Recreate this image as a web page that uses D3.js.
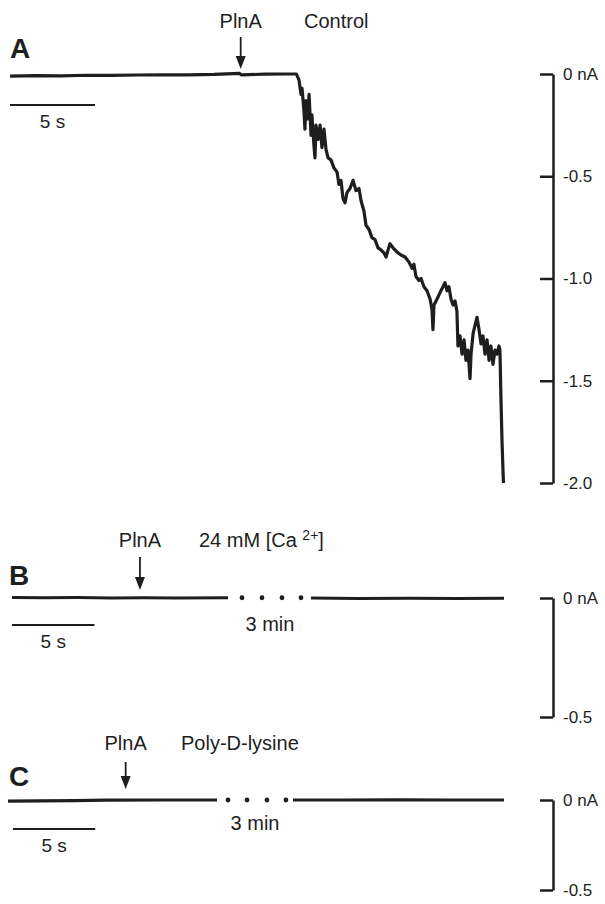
<!DOCTYPE html>
<html>
<head>
<meta charset="utf-8">
<script src="https://cdn.jsdelivr.net/npm/d3@7"></script>
<style>
	body { margin: 0; background: #fff; }
	svg { display: block; font-family: "Liberation Sans", Arial, Helvetica, sans-serif; }
</style>
</head>
<body>
<svg id="chart" width="605" height="904"></svg>
<script>
// Panel A trace: [time (s), current (nA)]
const traceA = [
	[0, -0.01], [1.5, -0.008], [3, -0.009], [4.5, -0.006], [6, -0.007], [7.5, -0.005], [9, -0.004],
	[10.5, -0.004], [12, -0.002], [13.5, 0.003], [13.6, -0.004], [15, -0.001], [16.3, 0], [16.85, 0],
	[17.0, -0.03], [17.12, -0.10], [17.18, -0.07], [17.29, -0.18], [17.35, -0.27], [17.41, -0.13],
	[17.53, -0.22], [17.59, -0.10], [17.71, -0.30], [17.76, -0.20], [17.88, -0.35], [17.94, -0.41],
	[18.0, -0.25], [18.12, -0.32], [18.24, -0.25], [18.35, -0.36], [18.47, -0.27], [18.59, -0.37],
	[18.71, -0.41], [18.88, -0.42], [19.06, -0.46], [19.24, -0.48], [19.35, -0.54], [19.47, -0.52],
	[19.59, -0.61], [19.71, -0.63], [19.82, -0.58], [20.0, -0.56], [20.18, -0.52], [20.35, -0.57],
	[20.53, -0.56], [20.65, -0.62], [20.82, -0.67], [20.94, -0.74], [21.12, -0.76], [21.29, -0.80],
	[21.47, -0.81], [21.65, -0.85], [21.82, -0.86], [22.0, -0.875], [22.12, -0.895], [22.24, -0.86],
	[22.35, -0.83], [22.53, -0.85], [22.76, -0.87], [23.0, -0.885], [23.24, -0.895], [23.47, -0.92],
	[23.65, -0.95], [23.76, -0.93], [23.88, -0.99], [24.06, -1.01], [24.18, -1.0], [24.35, -1.04],
	[24.53, -1.06], [24.71, -1.10], [24.82, -1.15], [24.88, -1.25], [24.94, -1.13], [25.12, -1.10],
	[25.29, -1.07], [25.47, -1.04], [25.59, -1.02], [25.71, -1.06], [25.82, -1.04], [25.94, -1.10],
	[26.06, -1.13], [26.18, -1.11], [26.29, -1.16], [26.35, -1.33], [26.47, -1.28], [26.59, -1.37],
	[26.71, -1.30], [26.82, -1.40], [26.94, -1.35], [27.06, -1.49], [27.12, -1.37], [27.24, -1.27],
	[27.35, -1.23], [27.47, -1.19], [27.59, -1.25], [27.71, -1.32], [27.82, -1.28], [27.94, -1.37],
	[28.06, -1.30], [28.18, -1.40], [28.29, -1.33], [28.41, -1.42], [28.53, -1.35], [28.65, -1.37],
	[28.76, -1.33], [28.82, -1.35], [28.88, -1.59], [28.94, -1.79], [29.0, -1.94], [29.03, -2.0]
];

// Panels B and C: before and after the 3 min break
const traceBLeft = [[0, 0.002], [2, 0.001], [4, 0.002], [6, 0], [8, 0.001], [10, 0], [13.1, 0.001]];
const traceBRight = [[193.1, 0], [196, -0.002], [199, -0.001], [202, -0.002], [204.8, -0.001]];
const traceCLeft = [[0, -0.006], [2, -0.005], [4, -0.003], [6, -0.001], [9, 0], [12.7, 0]];
const traceCRight = [[192.7, 0], [196, 0], [199, 0.001], [202, 0], [205.5, 0]];

const breakDotsB = [43.5, 86.8, 130.2, 171.4];
const breakDotsC = [38.8, 83.8, 131, 176];

const pulseTime = { A: 13.57, B: 7.76, C: 7.15 };

const ticksA = [0, -0.5, -1.0, -1.5, -2.0];
const tickLabelsA = ['0 nA', '-0.5', '-1.0', '-1.5', '-2.0'];
const ticksBC = [0, -0.5];
const tickLabelsBC = ['0 nA', '-0.5'];

const svg = d3.select('#chart');
const ink = '#1e1e1e';
const font = '"Liberation Sans", Arial, Helvetica, sans-serif';

// scales
const xA = d3.scaleLinear().domain([0, 29]).range([10, 503]);
const yA = d3.scaleLinear().domain([0, -2]).range([74, 483]);

const xB = d3.scaleLinear().domain([0, 13.1, 193.1, 204.8]).range([12, 228, 311, 504]);
const yB = d3.scaleLinear().domain([0, -0.5]).range([598, 717]);

const xC = d3.scaleLinear().domain([0, 12.7, 192.7, 205.5]).range([8, 217, 293, 504]);
const yC = d3.scaleLinear().domain([0, -0.5]).range([800, 890]);

function drawTrace(data, x, y, width) {
	const line = d3.line().x(d => x(d[0])).y(d => y(d[1]));
	svg.append('path')
		.datum(data)
		.attr('d', line)
		.attr('fill', 'none')
		.attr('stroke', ink)
		.attr('stroke-width', width)
		.attr('stroke-linejoin', 'round');
}

function drawBracket(y, ticks, labels) {
	const g = svg.append('g')
		.attr('transform', 'translate(553,0)')
		.call(d3.axisLeft(y).tickValues(ticks).tickSize(13).tickSizeOuter(0).tickFormat(''));
	g.selectAll('path, line').attr('stroke', ink).attr('stroke-width', 2.5);
	g.selectAll('.tick text').remove();

	g.selectAll('.lbl').data(ticks).join('text')
		.attr('class', 'lbl')
		.attr('x', 10)
		.attr('y', d => y(d))
		.attr('dy', '0.35em')
		.attr('text-anchor', 'start')
		.style('font-family', font)
		.style('font-size', '17px')
		.style('fill', ink)
		.text((d, i) => labels[i]);
}

function drawArrow(xPos, yTop, yTip) {
	svg.append('line')
		.attr('x1', xPos).attr('x2', xPos)
		.attr('y1', yTop).attr('y2', yTip - 8)
		.attr('stroke', ink).attr('stroke-width', 1.8);
	svg.append('path')
		.attr('d', `M${xPos - 5},${yTip - 13}L${xPos + 5},${yTip - 13}L${xPos},${yTip}Z`)
		.attr('fill', ink);
}

function drawScaleBar(x, t0, yPos) {
	svg.append('line')
		.attr('x1', x(t0)).attr('x2', x(t0 + 5))
		.attr('y1', yPos).attr('y2', yPos)
		.attr('stroke', ink).attr('stroke-width', 2);
	svg.append('text')
		.attr('x', (x(t0) + x(t0 + 5)) / 2)
		.attr('y', yPos + 23)
		.attr('text-anchor', 'middle')
		.style('font-size', '19px')
		.style('fill', ink)
		.text('5 s');
}

function label(text, xPos, yPos, opts = {}) {
	return svg.append('text')
		.attr('x', xPos)
		.attr('y', yPos)
		.attr('text-anchor', opts.anchor || 'start')
		.style('font-size', (opts.size || 20) + 'px')
		.style('font-weight', opts.bold ? 'bold' : 'normal')
		.style('fill', ink)
		.text(text);
}

// ---- Panel A
label('A', 10, 58, { size: 28, bold: true });
label('PlnA', xA(pulseTime.A), 28, { anchor: 'middle' });
label('Control', 304, 28);
drawArrow(xA(pulseTime.A), 37, 69);
drawTrace(traceA, xA, yA, 3.2);
drawScaleBar(xA, 0, 105);
drawBracket(yA, ticksA, tickLabelsA);

// ---- Panel B
label('B', 9, 585, { size: 28, bold: true });
label('PlnA', xB(pulseTime.B), 547, { anchor: 'middle' });
const ca = label('24 mM [Ca ', 199, 547);
ca.append('tspan').attr('dy', -7).style('font-size', '14px').text('2+');
ca.append('tspan').attr('dy', 7).text(']');
drawArrow(xB(pulseTime.B), 557, 590);
drawTrace(traceBLeft, xB, yB, 3.2);
drawTrace(traceBRight, xB, yB, 3.2);
svg.append('g').selectAll('circle').data(breakDotsB).join('circle')
	.attr('cx', d => xB(d)).attr('cy', yB(0.001)).attr('r', 2.4).attr('fill', ink);
label('3 min', xB(86.8) + 8, 631, { anchor: 'middle' });
drawScaleBar(xB, 0, 625);
drawBracket(yB, ticksBC, tickLabelsBC);

// ---- Panel C
label('C', 9, 786, { size: 28, bold: true });
label('PlnA', xC(pulseTime.C), 750, { anchor: 'middle' });
label('Poly-D-lysine', 181, 750);
drawArrow(xC(pulseTime.C), 762, 789);
drawTrace(traceCLeft, xC, yC, 3.2);
drawTrace(traceCRight, xC, yC, 3.2);
svg.append('g').selectAll('circle').data(breakDotsC).join('circle')
	.attr('cx', d => xC(d)).attr('cy', yC(0)).attr('r', 2.4).attr('fill', ink);
label('3 min', xC(83.8) + 8, 830, { anchor: 'middle' });
drawScaleBar(xC, 0.3, 829);
drawBracket(yC, ticksBC, tickLabelsBC);
</script>
</body>
</html>
